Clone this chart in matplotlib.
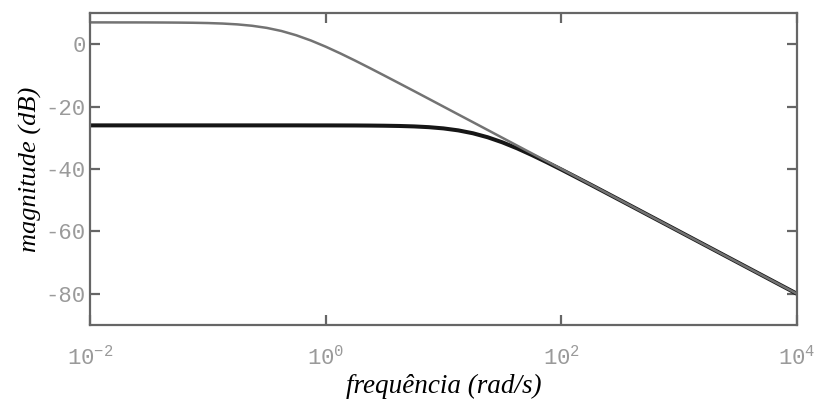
import matplotlib
matplotlib.use("Agg")
import matplotlib.pyplot as plt

# frequency points (log10 of rad/s)
log_freq = [-2, -1.875, -1.75, -1.625, -1.5, -1.375, -1.25, -1.125,
            -1, -0.875, -0.75, -0.625, -0.5, -0.375, -0.25, -0.125,
            0, 0.125, 0.25, 0.375, 0.5, 0.625, 0.75, 0.875,
            1, 1.125, 1.25, 1.375, 1.5, 1.625, 1.75, 1.875,
            2, 2.125, 2.25, 2.375, 2.5, 2.625, 2.75, 2.875,
            3, 3.125, 3.25, 3.375, 3.5, 3.625, 3.75, 3.875, 4]
mag_gray = [6.99, 6.99, 6.98, 6.98, 6.97, 6.95, 6.92, 6.87,
            6.78, 6.62, 6.35, 5.91, 5.23, 4.23, 2.87, 1.18,
            -0.79, -2.96, -5.26, -7.65, -10.09, -12.55, -15.02, -17.51,
            -20.01, -22.51, -25.0, -27.5, -30.0, -32.5, -35.0, -37.5,
            -40.0, -42.5, -45.0, -47.5, -50.0, -52.5, -55.0, -57.5,
            -60.0, -62.5, -65.0, -67.5, -70.0, -72.5, -75.0, -77.5, -80.0]
mag_black = [-26.02, -26.02, -26.02, -26.02, -26.02, -26.02, -26.02, -26.02,
             -26.02, -26.02, -26.02, -26.02, -26.02, -26.02, -26.02, -26.03,
             -26.03, -26.04, -26.05, -26.08, -26.13, -26.21, -26.35, -26.59,
             -26.99, -27.62, -28.55, -29.83, -31.46, -33.38, -35.52, -37.80,
             -40.17, -42.60, -45.05, -47.53, -50.02, -52.51, -55.01, -57.50,
             -60.0, -62.5, -65.0, -67.5, -70.0, -72.5, -75.0, -77.5, -80.0]
xtick_exps = [-2, 0, 2, 4]
yticks = [0, -20, -40, -60, -80]

plt.rcParams['axes.unicode_minus'] = False
plt.rcParams['mathtext.default'] = 'regular'

freq = [10.0 ** e for e in log_freq]

fig = plt.figure(figsize=(8.16, 4.03), dpi=100)
ax = fig.add_axes([90/816, 1-325/403, (797-90)/816, (325-13)/403])

ax.plot(freq, mag_black, color='#161616', lw=2.9, solid_capstyle='butt')
ax.plot(freq, mag_gray, color='#737373', lw=1.8)

ax.set_xscale('log')
ax.set_xlim(1e-2, 1e4)
ax.set_ylim(-90, 10)

ax.set_xticks([10.0 ** e for e in xtick_exps])
ax.set_xticklabels([r'$10^{%d}$' % e for e in xtick_exps])
ax.xaxis.set_minor_locator(matplotlib.ticker.NullLocator())
ax.set_yticks(yticks)
ax.set_yticklabels([str(v) for v in yticks])

for sp in ax.spines.values():
    sp.set_color('#666666')
    sp.set_linewidth(1.6)

ax.tick_params(axis='both', which='major', direction='in', length=7, width=1.6,
               color='#666666', top=True, right=True, labelcolor='#9a9a9a')
ax.tick_params(axis='x', pad=15)
ax.tick_params(axis='y', pad=3)
for lab in ax.get_xticklabels() + ax.get_yticklabels():
    lab.set_fontfamily('Liberation Mono')
    lab.set_fontsize(16)

ax.set_xlabel('frequência (rad/s)', fontfamily='Liberation Serif', style='italic',
              fontsize=19.5, color='black', labelpad=3)
ax.set_ylabel('magnitude (dB)', fontfamily='Liberation Serif', style='italic',
              fontsize=19, color='black', labelpad=3)

fig.savefig('out.png', dpi=100)
